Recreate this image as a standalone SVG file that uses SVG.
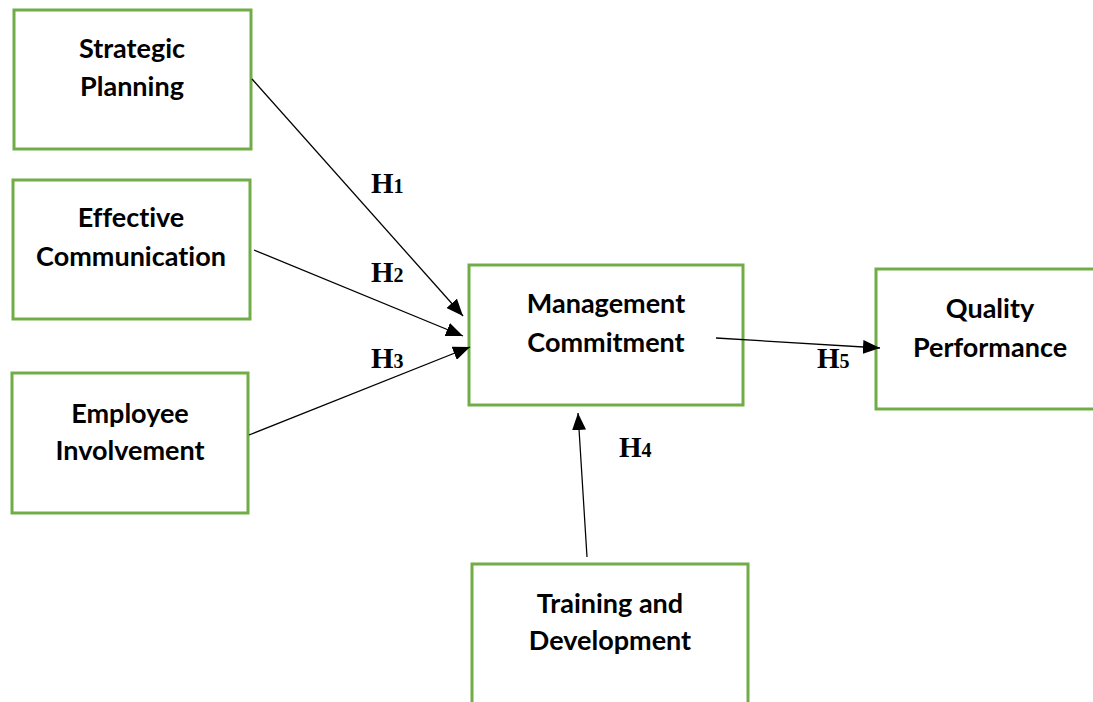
<svg xmlns="http://www.w3.org/2000/svg" width="1093" height="702" viewBox="0 0 1093 702">
  <style>
    .box { fill: #ffffff; stroke: #70ad47; stroke-width: 3; }
    .lbl { font-family: Lato, "Open Sans", "Liberation Sans", sans-serif; font-weight: bold; font-size: 27px; fill: #000; text-anchor: middle; font-variant-ligatures: none; }
    .hyp { font-family: "Liberation Serif", "Times New Roman", serif; font-weight: bold; font-size: 29px; fill: #000; }
    .sub { font-size: 20px; }
    .edge { stroke: #000; stroke-width: 1.3; fill: none; marker-end: url(#arrow); }
  </style>
  <defs>
    <marker id="arrow" markerUnits="userSpaceOnUse" markerWidth="18" markerHeight="14" refX="17" refY="7" orient="auto">
      <path d="M0,0 L17,7 L0,14 z" fill="#000"/>
    </marker>
  </defs>
  <rect width="1093" height="702" fill="#ffffff"/>

  <g id="strategic-planning">
    <rect class="box" x="14" y="10" width="237" height="139"/>
    <text class="lbl" x="132" y="58">Strategic</text>
    <text class="lbl" x="132" y="96">Planning</text>
  </g>

  <g id="effective-communication">
    <rect class="box" x="13" y="180" width="237" height="139"/>
    <text class="lbl" x="131" y="227">Effective</text>
    <text class="lbl" x="131" y="266">Communication</text>
  </g>

  <g id="employee-involvement">
    <rect class="box" x="12" y="373" width="236" height="140"/>
    <text class="lbl" x="130" y="423">Employee</text>
    <text class="lbl" x="130" y="460">Involvement</text>
  </g>

  <g id="management-commitment">
    <rect class="box" x="469" y="265" width="274" height="140"/>
    <text class="lbl" x="606" y="313">Management</text>
    <text class="lbl" x="606" y="352">Commitment</text>
  </g>

  <g id="quality-performance">
    <rect class="box" x="876" y="269" width="220" height="140"/>
    <text class="lbl" x="990" y="318">Quality</text>
    <text class="lbl" x="990" y="357">Performance</text>
  </g>

  <g id="training-development">
    <rect class="box" x="472" y="564" width="276" height="160"/>
    <text class="lbl" x="610" y="613">Training and</text>
    <text class="lbl" x="610" y="650">Development</text>
  </g>

  <g id="connectors">
    <line class="edge" x1="252" y1="79" x2="463" y2="316"/>
    <line class="edge" x1="254" y1="250" x2="463" y2="336"/>
    <line class="edge" x1="249" y1="435" x2="470" y2="347"/>
    <line class="edge" x1="587" y1="557" x2="578" y2="413"/>
    <line class="edge" x1="716" y1="338" x2="880" y2="348"/>
  </g>

  <g id="hypotheses">
    <text class="hyp" x="371" y="193">H<tspan class="sub">1</tspan></text>
    <text class="hyp" x="371" y="282">H<tspan class="sub">2</tspan></text>
    <text class="hyp" x="371" y="368">H<tspan class="sub">3</tspan></text>
    <text class="hyp" x="619" y="457">H<tspan class="sub">4</tspan></text>
    <text class="hyp" x="817" y="368">H<tspan class="sub">5</tspan></text>
  </g>
</svg>
